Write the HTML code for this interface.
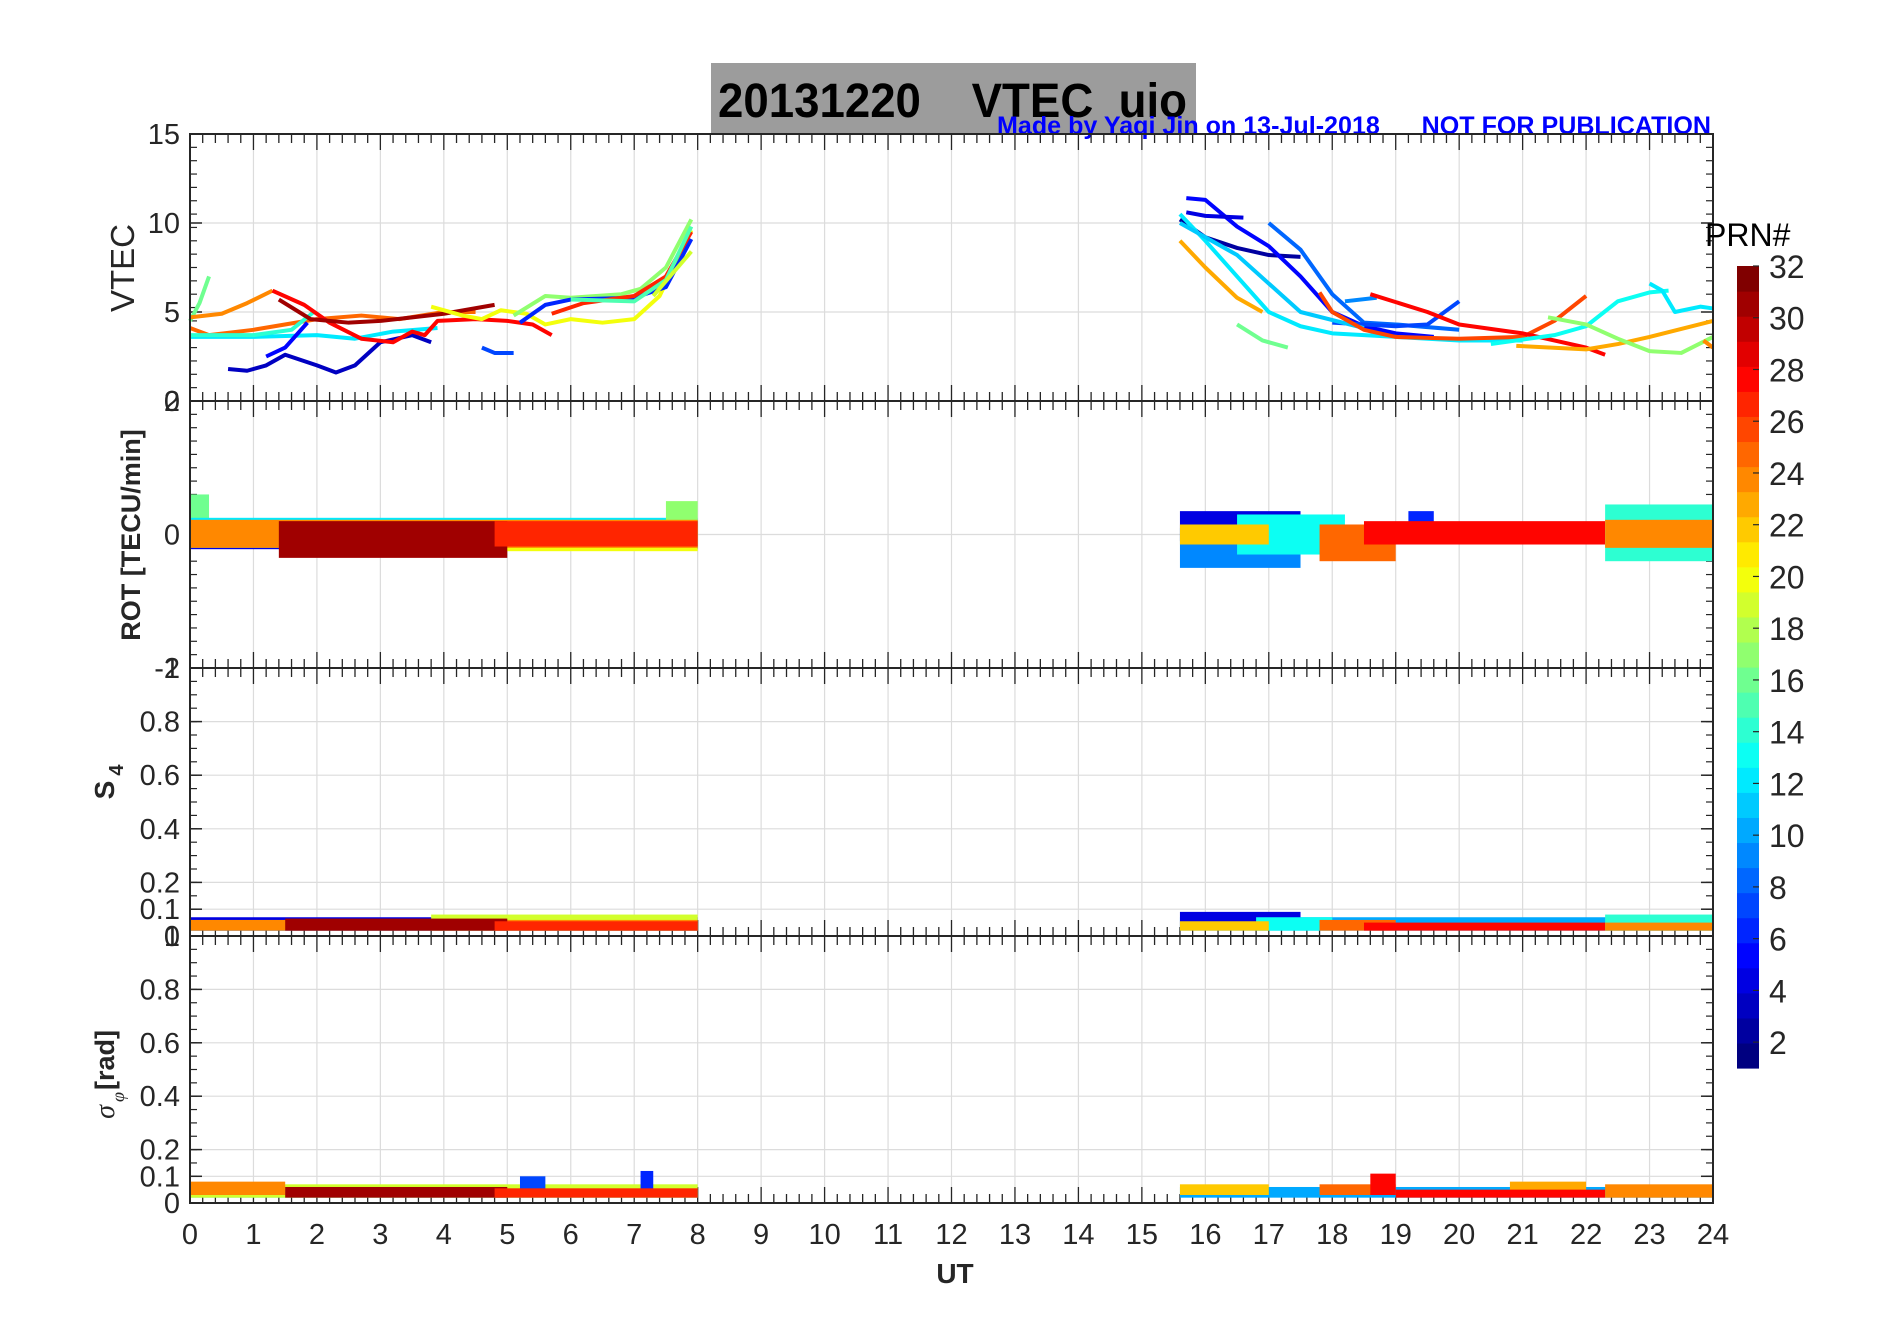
<!DOCTYPE html>
<html><head><meta charset="utf-8"><style>
html,body{margin:0;padding:0;background:#fff;}
svg{display:block;}
text{font-family:"Liberation Sans Narrow","Liberation Sans",sans-serif;}
</style></head><body>
<svg id="fig" width="1902" height="1330" viewBox="0 0 1902 1330" xmlns="http://www.w3.org/2000/svg">
<rect x="0" y="0" width="1902" height="1330" fill="#fff"/>
<rect x="711" y="63" width="485" height="71" fill="#9c9c9c"/>
<text x="718" y="117" font-size="48" font-weight="bold" fill="#000" textLength="469" lengthAdjust="spacingAndGlyphs" xml:space="preserve">20131220    VTEC  uio</text>
<text x="997" y="134" font-size="25" font-weight="bold" fill="#0000ff" textLength="714" lengthAdjust="spacingAndGlyphs" xml:space="preserve">Made by Yaqi Jin on 13-Jul-2018      NOT FOR PUBLICATION</text>
<g id="plots"></g>
</svg>
<script>
// ---- data ----
const hourTicks = [0,1,2,3,4,5,6,7,8,9,10,11,12,13,14,15,16,17,18,19,20,21,22,23,24];
const vtecTicks = [0,5,10,15];
const rotTicks = [-2,0,2];
const s4Ticks = [0,0.1,0.2,0.4,0.6,0.8,1];
const prnTicks = [2,4,6,8,10,12,14,16,18,20,22,24,26,28,30,32];
// VTEC tracks: prn, then [hour, value] pairs
const vtecPrn = [16,24,25,12,14,5,3,28,31,20,7,17,6,27,15,19, 2,5,4,8,7,12,11,23,16,9,26,28,23,13,12,17,24];
const vtecTracks = [
 [[0,4.5],[0.15,5.5],[0.3,7.0]],
 [[0,4.7],[0.5,4.9],[0.9,5.5],[1.3,6.2]],
 [[0,4.1],[0.3,3.7],[1,4.0],[2,4.6],[2.7,4.8],[3.3,4.6],[4,5.0],[4.5,5.0]],
 [[0,3.6],[1,3.6],[2,3.7],[2.6,3.5],[3.2,3.9],[3.9,4.1]],
 [[0,3.7],[1,3.7],[1.6,4.0],[1.95,5.0]],
 [[1.2,2.5],[1.5,3.0],[1.85,4.4]],
 [[0.6,1.8],[0.9,1.7],[1.2,2.0],[1.5,2.6],[2.0,2.0],[2.3,1.6],[2.6,2.0],[3.0,3.3],[3.5,3.7],[3.8,3.3]],
 [[1.3,6.2],[1.8,5.4],[2.2,4.4],[2.7,3.5],[3.2,3.3],[3.5,3.9],[3.7,3.7],[3.9,4.5],[4.5,4.6],[5.0,4.5],[5.4,4.3],[5.7,3.7]],
 [[1.4,5.7],[1.9,4.6],[2.5,4.4],[3.0,4.5],[3.5,4.7],[4.0,4.9],[4.8,5.4]],
 [[3.8,5.3],[4.3,4.8],[4.6,4.6],[4.9,5.1],[5.3,4.9],[5.6,4.3],[6.0,4.6],[6.5,4.4],[7.0,4.6],[7.4,5.9],[7.9,9.6]],
 [[4.6,3.0],[4.8,2.7],[5.1,2.7]],
 [[5.1,4.8],[5.6,5.9],[6.0,5.8],[6.8,6.0],[7.1,6.3],[7.5,7.5],[7.9,10.2]],
 [[5.2,4.4],[5.6,5.4],[6.0,5.7],[7.0,5.8],[7.5,6.4],[7.9,9.1]],
 [[5.7,4.9],[6.2,5.5],[7.0,5.9],[7.5,7.0],[7.9,9.5]],
 [[6.0,5.7],[7.0,5.6],[7.5,6.8],[7.9,9.8]],
 [[7.3,5.9],[7.9,8.4]],
 [[15.6,10.2],[16,9.2],[16.5,8.6],[17,8.2],[17.5,8.1]],
 [[15.7,11.4],[16,11.3],[16.5,9.8],[17,8.7],[17.5,7.0],[18,5.0],[18.5,4.2],[19,3.8],[19.6,3.6]],
 [[15.7,10.6],[16,10.4],[16.6,10.3]],
 [[17.0,10.0],[17.5,8.5],[18,6.0],[18.5,4.4],[19,4.3],[20,4.0]],
 [[18,4.4],[19,4.2],[19.5,4.3],[20,5.6]],
 [[15.6,10.5],[16,9.0],[16.5,7.0],[17,5.0],[17.5,4.2],[18,3.8],[19,3.6],[20,3.4],[21,3.4]],
 [[15.6,10.0],[16.5,8.2],[17.5,5.0],[18.5,4.1]],
 [[15.6,9.0],[16,7.5],[16.5,5.8],[16.9,5.0]],
 [[16.5,4.3],[16.9,3.4],[17.3,3.0]],
 [[18.2,5.6],[18.7,5.8]],
 [[17.8,6.1],[18,5.0],[18.5,4.0],[19,3.6],[20,3.5],[21,3.6],[21.5,4.5],[22,5.9]],
 [[18.6,6.0],[19.5,5.0],[20,4.3],[21,3.8],[22,3.0],[22.3,2.6]],
 [[20.9,3.1],[22,2.9],[22.5,3.2],[23,3.6],[24,4.5]],
 [[20.5,3.2],[21.5,3.7],[22,4.2],[22.5,5.6],[23,6.1],[23.3,6.2]],
 [[23,6.6],[23.2,6.2],[23.4,5.0],[23.8,5.3],[24,5.2]],
 [[21.4,4.7],[22,4.3],[22.5,3.5],[23,2.8],[23.5,2.7],[24,3.6]],
 [[23.85,3.4],[24,3.0]]
];
// ROT bands: [t0, t1, prn, lo, hi]
const rotBands = [
 [0,0.3,16,0,0.6],[0,8,4,-0.22,0.22],[0,8,12,-0.2,0.25],[3.8,8,20,-0.25,0.12],[7.5,8,17,0,0.5],
 [0,8,24,-0.2,0.22],[1.4,5,31,-0.35,0.2],[4.8,8,27,-0.18,0.2],
 [15.6,17.5,4,-0.1,0.35],[15.6,17.5,9,-0.5,0.1],[16.5,18.2,13,-0.3,0.3],[15.6,17,22,-0.15,0.15],
 [19.2,19.6,6,0.1,0.35],[17.8,19,25,-0.4,0.15],[18.5,22.3,28,-0.15,0.2],
 [22.3,24,14,-0.4,0.45],[22.3,24,24,-0.2,0.22]
];
// S4 bands: [t0, t1, prn, lo, hi]
const s4Bands = [
 [0,8,12,0.02,0.05],[0,8,4,0.02,0.07],[3.8,8,19,0.02,0.08],[0,8,24,0.02,0.06],[1.5,5,31,0.02,0.065],[4.8,8,27,0.02,0.055],
 [15.6,24,10,0.02,0.07],[15.6,17.5,4,0.03,0.09],[16.8,18,13,0.02,0.07],[15.6,17,22,0.02,0.055],[22.3,24,14,0.02,0.08],[17.8,19,25,0.02,0.06],[18.5,22.3,28,0.02,0.05],[22.3,24,24,0.02,0.05]
];
const sigBands = [
 [0,8,12,0.02,0.05],[0,8,19,0.02,0.07],[5.2,5.6,7,0.05,0.1],[7.1,7.3,6,0.05,0.12],[0,1.5,24,0.03,0.08],[1.5,5,31,0.02,0.06],[4.8,8,27,0.02,0.055],
 [15.6,24,10,0.02,0.06],[15.6,17,22,0.03,0.07],[20.8,22,23,0.03,0.08],[17.8,19,25,0.03,0.07],[18.6,19,28,0.03,0.11],[19,22.3,28,0.02,0.05],[22.3,24,24,0.02,0.07]
];
// ---- layout ----
const X0=190, X1=1713;
const panels=[{t:134,b:401},{t:401,b:668},{t:668,b:936},{t:936,b:1203}];
const xs=h=>X0+(X1-X0)*h/24;
function jet(p){const v=(p-1)/31;const c=x=>Math.round(255*Math.max(0,Math.min(1,x)));
 return `rgb(${c(1.5-Math.abs(4*v-3))},${c(1.5-Math.abs(4*v-2))},${c(1.5-Math.abs(4*v-1))})`;}
const NS="http://www.w3.org/2000/svg";
const G=document.getElementById('plots');
function el(tag,attrs,parent){const e=document.createElementNS(NS,tag);for(const k in attrs)e.setAttribute(k,attrs[k]);(parent||G).appendChild(e);return e;}
function panel(idx,ymin,ymax,ticks,labelFn){
 const p=panels[idx];const ys=v=>p.b-(p.b-p.t)*(v-ymin)/(ymax-ymin);
 const g=el('g',{});
 
 
 hourTicks.forEach(h=>{const l=el('line',{x1:xs(h),x2:xs(h),y1:p.t,y2:p.b,stroke:'#dcdcdc','stroke-width':1.2},g);
  });
 ticks.forEach(v=>{const l=el('line',{x1:X0,x2:X1,y1:ys(v),y2:ys(v),stroke:'#dcdcdc','stroke-width':1.2},g);
  
  const t=el('text',{x:X0-10,y:ys(v)+10,'font-size':29,'text-anchor':'end',fill:'#262626'},g);
  t.textContent=labelFn(v);
  el('line',{x1:X0,x2:X0+12,y1:ys(v),y2:ys(v),stroke:'#262626','stroke-width':1.5},g);
  el('line',{x1:X1,x2:X1-12,y1:ys(v),y2:ys(v),stroke:'#262626','stroke-width':1.5},g);});
 for(let k=0;k<=20;k++){const y=p.t+(p.b-p.t)*k/20;
  el('line',{x1:X0,x2:X0+7,y1:y,y2:y,stroke:'#262626','stroke-width':1.2},g);
  el('line',{x1:X1,x2:X1-7,y1:y,y2:y,stroke:'#262626','stroke-width':1.2},g);}
 for(let k=0;k<=120;k++){const x=xs(k/5);const L=(k%5==0)?16:9;
  el('line',{x1:x,x2:x,y1:p.t,y2:p.t+L,stroke:'#262626','stroke-width':1.3},g);
  el('line',{x1:x,x2:x,y1:p.b,y2:p.b-L,stroke:'#262626','stroke-width':1.3},g);}
 return {g,ys};
}
function drawBands(P,bands,name){
 bands.forEach(b=>{const r=el('rect',{x:xs(b[0]),y:P.ys(b[4]),width:xs(b[1])-xs(b[0]),height:P.ys(b[3])-P.ys(b[4]),fill:jet(b[2])},P.g);
  });
}
// VTEC
const P0=panel(0,0,15,vtecTicks,v=>String(v));
vtecTracks.forEach((tr,i)=>{const pl=el('polyline',{points:tr.map(q=>xs(q[0])+','+P0.ys(q[1])).join(' '),fill:'none',stroke:jet(vtecPrn[i]),'stroke-width':4,'stroke-linejoin':'round'},P0.g);
 });
const P1=panel(1,-2,2,rotTicks,v=>String(v));drawBands(P1,rotBands,'rot-band');
const P2=panel(2,0,1,s4Ticks,v=>String(v));drawBands(P2,s4Bands,'s4-band');
const P3=panel(3,0,1,s4Ticks,v=>String(v));drawBands(P3,sigBands,'sigma-band');
// frames
panels.forEach(p=>{const r=el('rect',{x:X0,y:p.t,width:X1-X0,height:p.b-p.t,fill:'none',stroke:'#262626','stroke-width':2});
 });
// x labels
hourTicks.forEach(h=>{const t=el('text',{x:xs(h),y:1244,'font-size':29,'text-anchor':'middle',fill:'#262626'});
 t.textContent=h;});
// colorbar
const CB={x:1737,w:22,t:266,b:1068};
const cy=v=>CB.b-(CB.b-CB.t)*(v-1)/31;
for(let p=1;p<=32;p++){const y0=CB.b-(CB.b-CB.t)*(p)/32,y1=CB.b-(CB.b-CB.t)*(p-1)/32;
 const r=el('rect',{x:CB.x,y:y0,width:CB.w,height:y1-y0+0.6,fill:jet(p)});
 }
prnTicks.forEach(v=>{el('line',{x1:CB.x+CB.w-6,x2:CB.x+CB.w,y1:cy(v),y2:cy(v),stroke:'#262626','stroke-width':1.2});
 const t=el('text',{x:CB.x+CB.w+10,y:cy(v)+12,'font-size':32,fill:'#262626'});
 t.textContent=v;});
</script>
<script>
const fig=document.getElementById('fig');
function T(attrs,txt,name){const e=document.createElementNS("http://www.w3.org/2000/svg",'text');for(const k in attrs)e.setAttribute(k,attrs[k]);e.textContent=txt;
 
 
 fig.appendChild(e);return e;}
T({x:1705,y:246,'font-size':32,fill:'#000'},'PRN#','colorbar-title');
T({x:955,y:1283,'font-size':28,'font-weight':'bold','text-anchor':'middle',fill:'#262626'},'UT','x-axis-title');
T({x:0,y:0,'font-size':33,fill:'#262626','text-anchor':'middle',transform:'translate(134,268) rotate(-90)'},'VTEC','vtec-axis-title');
T({x:0,y:0,'font-size':27,'font-weight':'bold',fill:'#262626','text-anchor':'middle',style:'font-family:"Liberation Sans",sans-serif',transform:'translate(140,535) rotate(-90)'},'ROT [TECU/min]','rot-axis-title');
T({x:0,y:0,'font-size':28,'font-weight':'bold',fill:'#262626','text-anchor':'middle',style:'font-family:"Liberation Sans",sans-serif',transform:'translate(114,790) rotate(-90)'},'S','s4-axis-title');
T({x:0,y:0,'font-size':20,'font-weight':'bold',fill:'#262626','text-anchor':'middle',style:'font-family:"Liberation Sans",sans-serif',transform:'translate(123,770) rotate(-90)'},'4','s4-axis-subscript');
T({x:0,y:0,'font-size':27,'font-weight':'bold',fill:'#262626','text-anchor':'middle',style:'font-family:"Liberation Sans",sans-serif',transform:'translate(114,1060) rotate(-90)'},'[rad]','sigma-axis-title');
T({x:0,y:0,'font-size':28,'font-style':'italic',fill:'#262626','text-anchor':'middle',style:'font-family:"Liberation Serif",serif',transform:'translate(114,1112) rotate(-90)'},'σ','sigma-symbol');
T({x:0,y:0,'font-size':18,'font-style':'italic',fill:'#262626','text-anchor':'middle',style:'font-family:"Liberation Serif",serif',transform:'translate(124,1097) rotate(-90)'},'φ','sigma-subscript');
</script>
</body></html>
